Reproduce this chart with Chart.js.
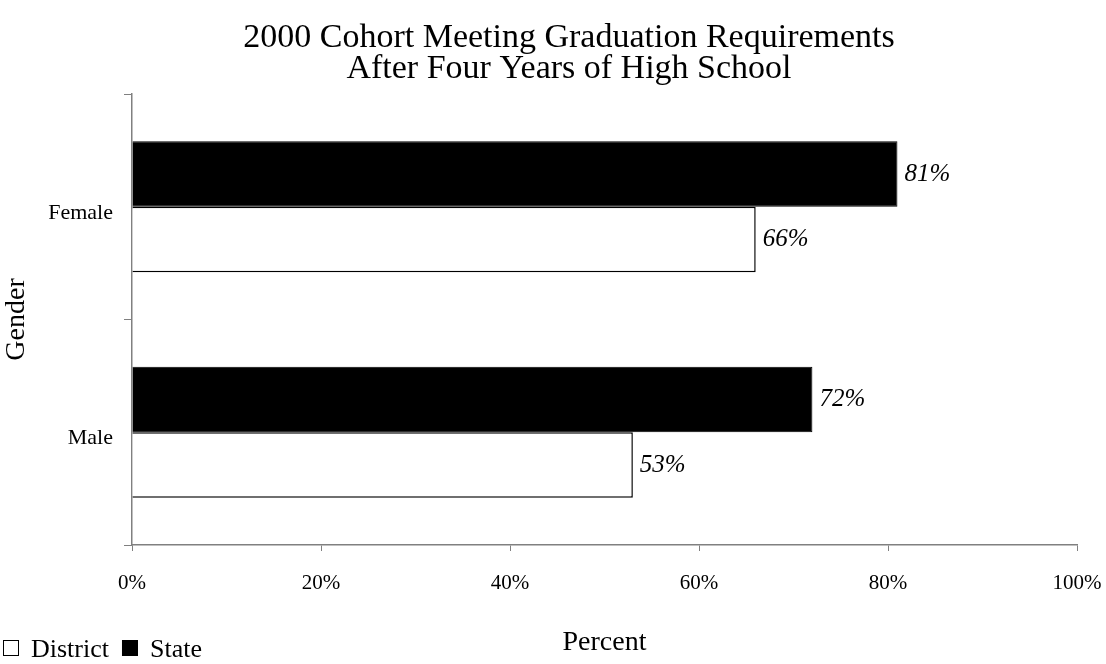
<!DOCTYPE html>
<html lang="en">
<head>
  <meta charset="UTF-8">
  <title>2000 Cohort Meeting Graduation Requirements</title>
  <script src="https://cdn.jsdelivr.net/npm/chart.js@4"></script>
  <style>
    body { margin: 0; background: #fff; }
  </style>
</head>
<body>

<canvas id="barChart" width="1106" height="664"></canvas>

<script>
  // Chart data
  const titleLines = ['2000 Cohort Meeting Graduation Requirements', 'After Four Years of High School'];
  const categories = ['Female', 'Male'];
  const stateValues = [81, 72];
  const districtValues = [66, 53];
  const xTicks = [0, 20, 40, 60, 80, 100];

  const serif = "'Liberation Serif', 'Times New Roman', serif";
  const axisGray = '#808080';

  // Two-line title, centred a bit right of the page middle
  const headTitle = {
    id: 'headTitle',
    afterDraw(chart) {
      const ctx = chart.ctx;
      ctx.save();
      ctx.font = '34px ' + serif;
      ctx.fillStyle = '#000';
      ctx.textAlign = 'center';
      ctx.textBaseline = 'middle';
      titleLines.forEach((line, i) => {
        ctx.fillText(line, 569, 38 + i * 31);
      });
      ctx.restore();
    }
  };

  // Percent labels at the end of each bar
  const valueLabels = {
    id: 'valueLabels',
    afterDatasetsDraw(chart) {
      const ctx = chart.ctx;
      ctx.save();
      ctx.font = 'italic 25px ' + serif;
      ctx.fillStyle = '#000';
      ctx.textBaseline = 'middle';
      ctx.textAlign = 'left';
      chart.data.datasets.forEach((ds, i) => {
        chart.getDatasetMeta(i).data.forEach((bar, j) => {
          ctx.fillText(ds.data[j] + '%', bar.x + 7, bar.y);
        });
      });
      ctx.restore();
    }
  };

  // Legend in the lower left corner, District first
  const cornerLegend = {
    id: 'cornerLegend',
    afterDraw(chart) {
      const ctx = chart.ctx;
      const items = chart.data.datasets.slice().reverse();
      let x = 3;
      const boxTop = 640, box = 16, baseline = 657;
      ctx.save();
      ctx.font = '26px ' + serif;
      ctx.textBaseline = 'alphabetic';
      items.forEach(ds => {
        ctx.fillStyle = ds.backgroundColor;
        ctx.fillRect(x, boxTop, box, box);
        ctx.strokeStyle = '#000';
        ctx.lineWidth = 1;
        ctx.strokeRect(x + 0.5, boxTop + 0.5, box - 1, box - 1);
        x += box + 12;
        ctx.fillStyle = '#000';
        ctx.fillText(ds.label, x, baseline);
        x += ctx.measureText(ds.label).width + 13;
      });
      ctx.restore();
    }
  };

  const ctx = document.getElementById('barChart').getContext('2d');

  new Chart(ctx, {
    type: 'bar',
    data: {
      labels: categories,
      datasets: [
        {
          label: 'State',
          data: stateValues,
          backgroundColor: '#000000',
          borderColor: '#000000',
          borderWidth: 1,
        },
        {
          label: 'District',
          data: districtValues,
          backgroundColor: '#ffffff',
          borderColor: '#000000',
          borderWidth: 1.5,
        },
      ],
    },
    options: {
      indexAxis: 'y',
      responsive: false,
      animation: false,
      categoryPercentage: 0.58,
      barPercentage: 1.0,
      layout: {
        padding: { top: 94, right: 0, bottom: 0, left: 0 },
      },
      plugins: {
        legend: { display: false },
        tooltip: { enabled: false },
        title: { display: false },
      },
      scales: {
        x: {
          min: 0,
          max: 100,
          afterFit: scale => {
            scale.height = 119;
            scale.paddingLeft = 0;
            scale.paddingRight = 29;
          },
          afterBuildTicks: scale => { scale.ticks = xTicks.map(v => ({ value: v })); },
          ticks: {
            color: '#000',
            padding: 20,
            font: { family: serif, size: 21 },
            callback: value => value + '%',
          },
          grid: {
            drawOnChartArea: false,
            tickLength: 6,
            color: axisGray,
          },
          border: { color: axisGray, width: 1.5 },
          title: {
            display: true,
            text: 'Percent',
            color: '#000',
            font: { family: serif, size: 28 },
            padding: { top: 0, bottom: 5 },
          },
        },
        y: {
          afterFit: scale => { scale.width = 132; },
          ticks: {
            color: '#000',
            padding: 11,
            labelOffset: 6,
            font: { family: serif, size: 22 },
          },
          grid: {
            offset: true,
            drawOnChartArea: false,
            tickLength: 8,
            color: axisGray,
          },
          border: { color: axisGray, width: 1.5 },
          title: {
            display: true,
            text: 'Gender',
            color: '#000',
            font: { family: serif, size: 28 },
            padding: { top: 0, bottom: 0 },
          },
        },
      },
    },
    plugins: [headTitle, valueLabels, cornerLegend],
  });
</script>

</body>
</html>
